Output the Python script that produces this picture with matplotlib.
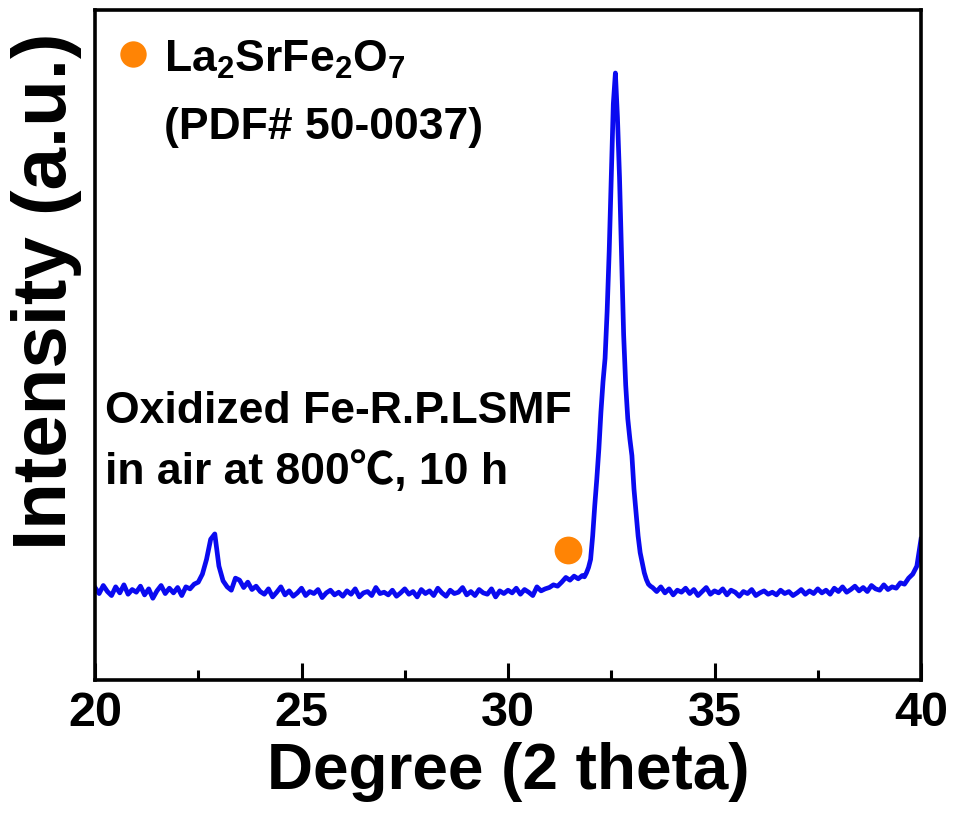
import numpy as np
import matplotlib
matplotlib.use("Agg")
import matplotlib.pyplot as plt
from matplotlib.ticker import MultipleLocator

plt.rcParams['font.family'] = ['Liberation Sans', 'DejaVu Sans']
plt.rcParams['font.weight'] = 'bold'
plt.rcParams['mathtext.fontset'] = 'custom'
plt.rcParams['mathtext.rm'] = 'Liberation Sans:bold'
plt.rcParams['mathtext.it'] = 'Liberation Sans:bold'
plt.rcParams['mathtext.bf'] = 'Liberation Sans:bold'
plt.rcParams['mathtext.default'] = 'rm'

# ---- data (arbitrary intensity units) ----
# segment 1: 20.0 .. 31.8, step 0.1
seg1_start, seg1_step = 20.0, 0.1
seg1_intensity = [
    13.8, 12.9, 14.1, 13.2, 12.6, 13.9, 13.0, 14.2, 12.8, 13.5,
    13.1, 14.0, 12.7, 13.6, 12.2, 13.3, 14.1, 12.9, 13.7, 13.0,
    13.8, 12.6, 13.9, 13.6, 14.3,
    14.6, 15.8, 18.0, 21.0, 21.8, 17.0, 14.8, 13.9, 13.4,
    15.2, 14.9, 13.8, 14.6, 13.5, 14.0, 13.2,
    12.8, 13.6, 12.4, 13.1, 13.9, 12.7, 13.3, 12.5, 13.0, 13.7,
    12.6, 13.2, 12.9, 13.5, 12.3, 13.0, 13.4, 12.7, 13.1, 12.5,
    13.3, 12.8, 13.6, 12.4, 13.0, 13.2, 12.6, 13.8, 12.9, 13.1,
    12.7, 13.4, 12.5, 13.0, 13.6, 12.8, 13.2, 12.4, 13.5, 12.9,
    13.3, 12.6, 13.7, 13.0, 12.5, 13.4, 12.9, 13.1, 13.8, 12.7,
    13.2, 12.6, 13.5, 13.0, 12.8, 13.6, 12.4, 13.3, 12.9, 13.4,
    13.0, 13.7, 12.8, 13.5, 13.1, 12.6, 13.9, 13.3, 13.6, 13.8,
    14.2, 14.0, 14.6, 15.3, 14.9, 15.5, 15.1, 15.6,
]
# segment 2: 31.85 .. 33.45, step 0.05 (main reflection)
seg2_start, seg2_step = 31.85, 0.05
seg2_intensity = [
    15.4, 16.0, 16.8, 18.0, 21.5, 26.0, 30.0, 34.5, 40.0, 44.5,
    48.0, 55.0, 64.0, 75.0, 86.0, 90.6, 84.0, 75.0, 63.0, 51.5,
    44.0, 39.0, 36.0, 33.5, 28.5, 25.0, 21.5, 19.0, 17.5, 16.0,
    15.0, 14.3, 14.0,
]
# segment 3: 33.5 .. 40.0, step 0.1
seg3_start, seg3_step = 33.5, 0.1
seg3_intensity = [
    13.8, 13.2, 13.9, 13.0, 13.6, 12.7, 13.4, 13.1, 13.7, 12.9,
    13.5, 12.6, 13.2, 13.8, 12.8, 13.3, 13.0, 13.6, 12.7, 13.4,
    13.1, 12.5, 13.2, 12.9, 13.5, 12.6, 13.0, 13.3, 12.8, 13.1,
    12.7, 13.4, 12.9, 13.2, 12.6, 13.0, 13.5, 12.8, 13.3, 12.9,
    13.6, 13.0, 13.4, 12.8, 13.7, 13.2, 13.9, 13.1, 13.5, 14.0,
    13.3, 13.8, 13.2, 14.1, 13.6, 13.4, 14.2, 13.5, 13.9, 13.7,
    14.5, 14.3, 15.2, 15.8, 17.0, 21.0,
]

marker_theta = [31.45]
marker_intensity = [19.4]

x_ticks = [20, 25, 30, 35, 40]
x_label = "Degree (2 theta)"
y_label = "Intensity (a.u.)"
legend_label = "La$_2$SrFe$_2$O$_7$"
legend_ref = "(PDF# 50-0037)"
note_lines = ["Oxidized Fe-R.P.LSMF", "in air at 800\u2103, 10 h"]


def seg_x(start, step, vals):
    return start + step * np.arange(len(vals))


two_theta = np.concatenate([
    seg_x(seg1_start, seg1_step, seg1_intensity),
    seg_x(seg2_start, seg2_step, seg2_intensity),
    seg_x(seg3_start, seg3_step, seg3_intensity),
])
intensity = np.concatenate([seg1_intensity, seg2_intensity, seg3_intensity])

fig = plt.figure(figsize=(9.55, 8.16), dpi=100)
ax = fig.add_axes([0.0995, 0.1667, 0.8649, 0.8210])

ax.plot(two_theta, intensity, color='#0A0AF0', lw=3.4, solid_joinstyle='round')
ax.plot(marker_theta, marker_intensity, 'o', color='#FF8405', ms=20, mec='none')

ax.set_xlim(20, 40)
ax.set_ylim(0, 100)
ax.set_xticks(x_ticks)
ax.xaxis.set_minor_locator(MultipleLocator(2.5))
ax.set_yticks([])
ax.tick_params(axis='x', which='major', direction='in', length=12, width=2.2,
               labelsize=35, pad=8, top=False)
ax.tick_params(axis='x', which='minor', direction='in', length=7, width=2.2, top=False)
for lab in ax.get_xticklabels():
    lab.set_fontweight('bold')
for s in ax.spines.values():
    s.set_linewidth(2.6)

ax.set_xlabel(x_label, fontsize=46, fontweight='bold', labelpad=4)
ax.set_ylabel(y_label, fontsize=55, fontweight='bold')
ax.yaxis.set_label_coords(-0.016, 0.58)

# legend-like annotation
ax.plot([0.046], [0.935], 'o', color='#FF8405', ms=19, mec='none',
        transform=ax.transAxes, clip_on=False)
ax.text(0.083, 0.925, legend_label, transform=ax.transAxes, fontsize=32,
        fontweight='bold', va='center', ha='left')
ax.text(0.083, 0.825, legend_ref, transform=ax.transAxes, fontsize=32,
        fontweight='bold', va='center', ha='left')

ax.text(0.012, 0.4, note_lines[0], transform=ax.transAxes, fontsize=32,
        fontweight='bold', va='center', ha='left')
ax.text(0.012, 0.31, note_lines[1], transform=ax.transAxes, fontsize=32,
        fontweight='bold', va='center', ha='left',
        family=['Liberation Sans', 'Noto Sans CJK SC', 'DejaVu Sans'])

fig.savefig('out.png', dpi=100)
